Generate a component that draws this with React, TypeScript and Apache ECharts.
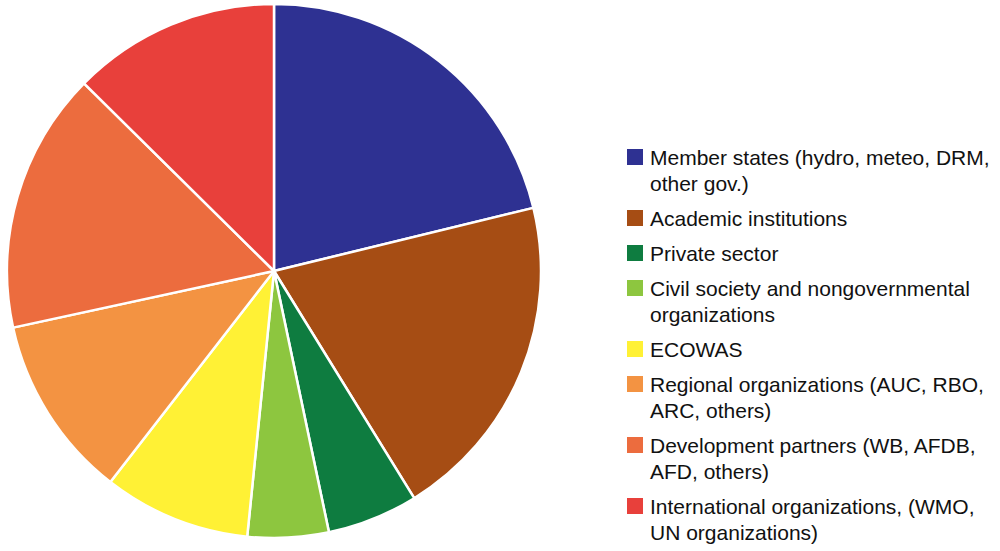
import React, { useEffect, useRef } from "react";
import * as echarts from "echarts";

const categories = [
  "Member states (hydro, meteo, DRM,\nother gov.)",
  "Academic institutions",
  "Private sector",
  "Civil society and nongovernmental\norganizations",
  "ECOWAS",
  "Regional organizations (AUC, RBO,\nARC, others)",
  "Development partners (WB, AFDB,\nAFD, others)",
  "International organizations, (WMO,\nUN organizations)",
];
const values = [21.2, 20.0, 5.5, 4.9, 8.9, 11.1, 15.8, 12.6];
const colors = ["#2E3192", "#A64D14", "#0E7C40", "#8DC63F", "#FFF135", "#F39342", "#EC6C3E", "#E8403B"];

export default function App() {
  const ref = useRef<HTMLDivElement>(null);
  useEffect(() => {
    document.body.style.margin = "0";
    const chart = echarts.init(ref.current!, null, { renderer: "svg" });
    const legendItems: any[] = [];
    let y = 149;
    categories.forEach((name, i) => {
      const lines = name.split("\n").length;
      legendItems.push({
        type: "rect",
        shape: { x: 627, y, width: 16, height: 16 },
        style: { fill: colors[i] },
      });
      legendItems.push({
        type: "text",
        x: 650,
        y: y - 5,
        style: {
          text: name,
          fill: "#111",
          font: '21px "Liberation Sans", Arial, Helvetica, sans-serif',
          lineHeight: 26,
          verticalAlign: "top",
          align: "left",
        },
      });
      y += 35 + 26 * (lines - 1);
    });
    chart.setOption({
      animation: false,
      backgroundColor: "#fff",
      graphic: legendItems,
      series: [
        {
          type: "pie",
          center: [274, 271],
          radius: 267,
          startAngle: 90,
          clockwise: true,
          label: { show: false },
          labelLine: { show: false },
          emphasis: { disabled: true },
          itemStyle: { borderColor: "#fff", borderWidth: 2.5 },
          data: categories.map((name, i) => ({
            name,
            value: values[i],
            itemStyle: { color: colors[i] },
          })),
        },
      ],
    });
    return () => chart.dispose();
  }, []);
  return <div ref={ref} style={{ width: 1000, height: 551 }} />;
}
